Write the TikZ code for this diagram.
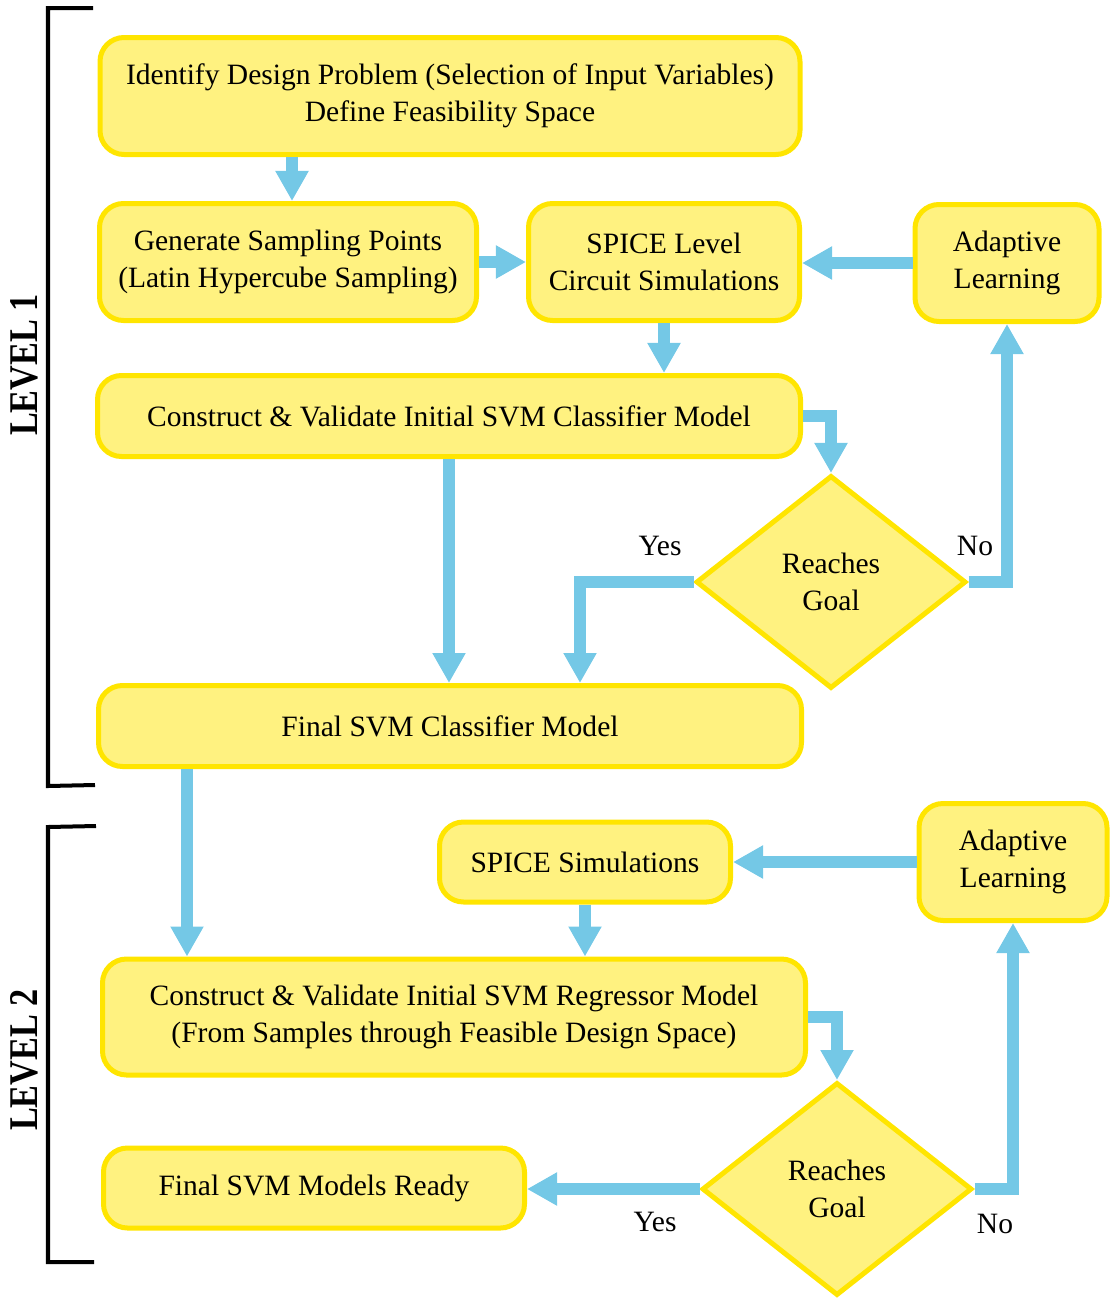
\documentclass[tikz,border=0pt]{standalone}
\usepackage{fontspec}
\setmainfont{Liberation Serif}
\usetikzlibrary{arrows.meta,shapes.geometric,calc}
\definecolor{boxfill}{RGB}{255,242,128}
\definecolor{boxline}{RGB}{255,229,0}
\definecolor{arrblue}{RGB}{116,200,230}
\begin{document}
\begin{tikzpicture}[x=0.025cm,y=-0.025cm,
  box/.style={draw=boxline,fill=boxfill,line width=0.125cm,rounded corners=0.6cm,
    align=center,inner sep=2pt,font=\fontsize{21}{26.5}\selectfont},
  dec/.style={draw=boxline,fill=boxfill,line width=0.125cm,diamond,aspect=1.27,inner sep=0pt,
    align=center,font=\fontsize{21}{26.5}\selectfont},
  arr/.style={draw=arrblue,line width=0.3cm,-{Triangle[length=0.75cm,width=0.78cm]},arrblue},
  lbl/.style={font=\fontsize{21}{26}\selectfont,inner sep=0pt},
  lvl/.style={font=\fontsize{29}{30}\selectfont\bfseries,rotate=90,inner sep=0pt},
  brk/.style={draw=black,line width=0.1cm}]
\useasboundingbox (0,0) rectangle (1112,1303);

% nodes
\node[box,minimum width=700*0.025cm,minimum height=117*0.025cm] (id) at (450,96)
  {Identify Design Problem (Selection of Input Variables)\\Define Feasibility Space};
\node[box,minimum width=377*0.025cm,minimum height=117*0.025cm] (gen) at (288,262)
  {Generate Sampling Points\\(Latin Hypercube Sampling)};
\node[box,minimum width=271*0.025cm,minimum height=117*0.025cm] (spice) at (664,262)
  {SPICE Level\\Circuit Simulations};
\node[box,minimum width=184*0.025cm,minimum height=117*0.025cm] (al1) at (1007,263)
  {Adaptive\\Learning};
\node[box,minimum width=703*0.025cm,minimum height=81*0.025cm] (cons) at (449,416)
  {Construct \& Validate Initial SVM Classifier Model};
\node[dec,minimum width=270*0.025cm,minimum height=213*0.025cm] (d1) at (831,582)
  {Reaches\\Goal};
\node[box,minimum width=703*0.025cm,minimum height=81*0.025cm] (final) at (450,726)
  {Final SVM Classifier Model};
\node[box,minimum width=291*0.025cm,minimum height=80*0.025cm] (ss) at (585,862)
  {SPICE Simulations};
\node[box,minimum width=188*0.025cm,minimum height=117*0.025cm] (al2) at (1013,862)
  {Adaptive\\Learning};
\node[box,minimum width=703*0.025cm,minimum height=116*0.025cm] (reg) at (454,1017)
  {Construct \& Validate Initial SVM Regressor Model\\(From Samples through Feasible Design Space)};
\node[dec,minimum width=270*0.025cm,minimum height=213*0.025cm] (d2) at (837,1189)
  {Reaches\\Goal};
\node[box,minimum width=421*0.025cm,minimum height=80*0.025cm] (fin2) at (314,1188)
  {Final SVM Models Ready};

% labels
\node[lbl] (yes1) at (660,546) {Yes};
\node[lbl] (no1) at (975,546) {No};
\node[lbl] (yes2) at (655,1222) {Yes};
\node[lbl] (no2) at (995,1224) {No};
\node[lvl] (lv1) at (24,365) {\scalebox{0.84}[1]{LEVEL 1}};
\node[lvl] (lv2) at (24,1060) {\scalebox{0.84}[1]{LEVEL 2}};

% brackets
\draw[brk] (93,8) -- (48,8) -- (48,786) -- (95,785);
\draw[brk] (96,826) -- (48,827) -- (48,1262) -- (94,1262);

% helper coordinates
\coordinate (cx1) at (292,0);
\coordinate (cx2) at (580,0);
\coordinate (cx3) at (187,0);

% connectors
\draw[arr] (id.south -| cx1) -- (gen.north -| cx1);
\draw[arr] (gen.east) -- (spice.west);
\draw[arr] (spice.south) -- (cons.north -| spice.south);
\draw[arr] (al1.west) -- (spice.east |- al1.west);
\draw[arr] (cons.east) -| (d1.north);
\draw[arr] (d1.east) -| (al1.south);
\draw[arr] (d1.west) -| (final.north -| cx2);
\draw[arr] (cons.south) -- (final.north -| cons.south);
\draw[arr] (final.south -| cx3) -- (reg.north -| cx3);
\draw[arr] (ss.south) -- (reg.north -| ss.south);
\draw[arr] (al2.west) -- (ss.east |- al2.west);
\draw[arr] (reg.east) -| (d2.north);
\draw[arr] (d2.east) -| (al2.south);
\draw[arr] (d2.west) -- (fin2.east |- d2.west);
\end{tikzpicture}
\end{document}
